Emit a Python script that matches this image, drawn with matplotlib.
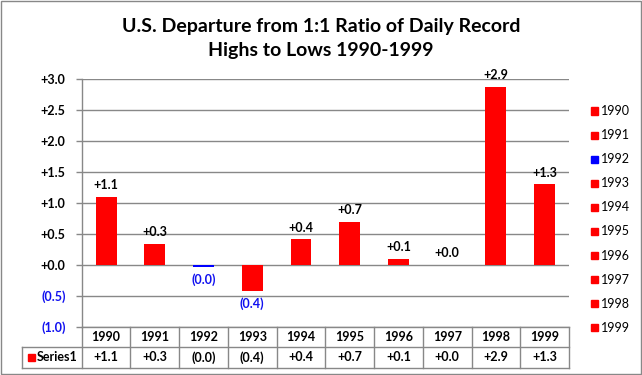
import matplotlib
matplotlib.use("Agg")
import matplotlib.pyplot as plt
from matplotlib.patches import Rectangle
from matplotlib.lines import Line2D
import matplotlib.transforms as mtransforms

plt.rcParams['font.family'] = ['Lato', 'DejaVu Sans']

years = ["1990", "1991", "1992", "1993", "1994", "1995", "1996", "1997", "1998", "1999"]
values = [1.10, 0.34, -0.04, -0.43, 0.41, 0.70, 0.10, 0.0, 2.88, 1.30]
bar_colors = ["#FF0000", "#FF0000", "#0000FF", "#FF0000", "#FF0000",
              "#FF0000", "#FF0000", "#FF0000", "#FF0000", "#FF0000"]
series_name = "Series1"
yticks = [-1.0, -0.5, 0.0, 0.5, 1.0, 1.5, 2.0, 2.5, 3.0]
title = "U.S. Departure from 1:1 Ratio of Daily Record\nHighs to Lows 1990-1999"

W, H = 642, 375
fig = plt.figure(figsize=(W / 100, H / 100), dpi=100)

def fy(y):
    return 1 - y / H

def fx(x):
    return x / W

ax_l, ax_r, ax_t, ax_b = 81.7, 569.0, 79.3, 326.7
ax = fig.add_axes([fx(ax_l), fy(ax_b), fx(ax_r) - fx(ax_l), fy(ax_t) - fy(ax_b)])

grid_c = "#888888"
blue_txt = "#1010F0"
fs = 9

def fmt(v):
    if v < 0:
        return "({:.1f})".format(abs(v))
    return "+{:.1f}".format(v)

x = list(range(len(years)))
ax.bar(x, values, width=0.43, color=bar_colors, zorder=3)
ax.set_xlim(-0.5, len(years) - 0.5)
ax.set_ylim(yticks[0], yticks[-1])
ax.set_yticks(yticks)
ax.set_yticklabels([fmt(t) for t in yticks], fontsize=fs, fontweight='bold')
for lab, t in zip(ax.get_yticklabels(), yticks):
    lab.set_color(blue_txt if t < 0 else "black")
ax.tick_params(axis='y', length=4, color=grid_c, width=1, pad=7.5)
ax.set_xticks([])
for t in yticks:
    ax.axhline(t, color=grid_c, lw=1, zorder=1)
for s in ['top', 'right', 'bottom']:
    ax.spines[s].set_visible(False)
ax.spines['left'].set_color(grid_c)
ax.spines['left'].set_linewidth(1)
ax.patch.set_alpha(0)

# data labels
for xi, v in zip(x, values):
    if v >= 0:
        ax.annotate(fmt(v), (xi, v), xytext=(0, 4), textcoords='offset points',
                    ha='center', va='bottom', fontsize=fs, fontweight='bold', color='black')
    else:
        ax.annotate(fmt(v), (xi, v), xytext=(0, -4), textcoords='offset points',
                    ha='center', va='top', fontsize=fs, fontweight='bold', color=blue_txt)

# title
fig.text(0.5, fy(38.5), title, ha='center', va='center', fontsize=14,
         fontweight='bold', linespacing=1.45)

# data table
trans = mtransforms.blended_transform_factory(ax.transData, fig.transFigure)
row_top, row_mid, row_bot = ax_b, 347.0, 367.7
tbl_lines = dict(color=grid_c, lw=1, clip_on=False)
fig.add_artist(Line2D([fx(ax_l), fx(ax_r)], [fy(row_top)] * 2, **tbl_lines))
fig.add_artist(Line2D([fx(22.3), fx(ax_r)], [fy(row_mid)] * 2, **tbl_lines))
fig.add_artist(Line2D([fx(22.3), fx(ax_r)], [fy(row_bot)] * 2, **tbl_lines))
fig.add_artist(Line2D([fx(22.3), fx(22.3)], [fy(row_mid), fy(row_bot)], **tbl_lines))
for i in range(len(years) + 1):
    fig.add_artist(Line2D([i - 0.5, i - 0.5], [fy(row_top), fy(row_bot)],
                          transform=trans, **tbl_lines))
for xi, yr, v in zip(x, years, values):
    fig.text(xi, fy((row_top + row_mid) / 2), yr, transform=trans, ha='center',
             va='center', fontsize=fs, fontweight='bold')
    fig.text(xi, fy((row_mid + row_bot) / 2), fmt(v), transform=trans, ha='center',
             va='center', fontsize=fs, fontweight='bold')
fig.add_artist(Rectangle((fx(28), fy(361)), fx(7) - fx(0), fy(354) - fy(361),
                         color="#FF0000", transform=fig.transFigure))
fig.text(fx(37), fy((row_mid + row_bot) / 2), series_name, ha='left', va='center',
         fontsize=fs, fontweight='bold')

# legend (one entry per category)
leg_y0, leg_dy = 111.0, 24.1
for i, (yr, c) in enumerate(zip(years, bar_colors)):
    yc = leg_y0 + i * leg_dy
    fig.add_artist(Rectangle((fx(591), fy(yc + 3.5)), fx(7) - fx(0), fy(yc - 3.5) - fy(yc + 3.5),
                             color=c, transform=fig.transFigure))
    fig.text(fx(601), fy(yc), yr, ha='left', va='center', fontsize=fs)

# figure border
fig.add_artist(Rectangle((0.001, 0.002), 0.997, 0.995, fill=False, edgecolor="#888888",
                         lw=1, transform=fig.transFigure))

fig.savefig("out.png", dpi=100)
